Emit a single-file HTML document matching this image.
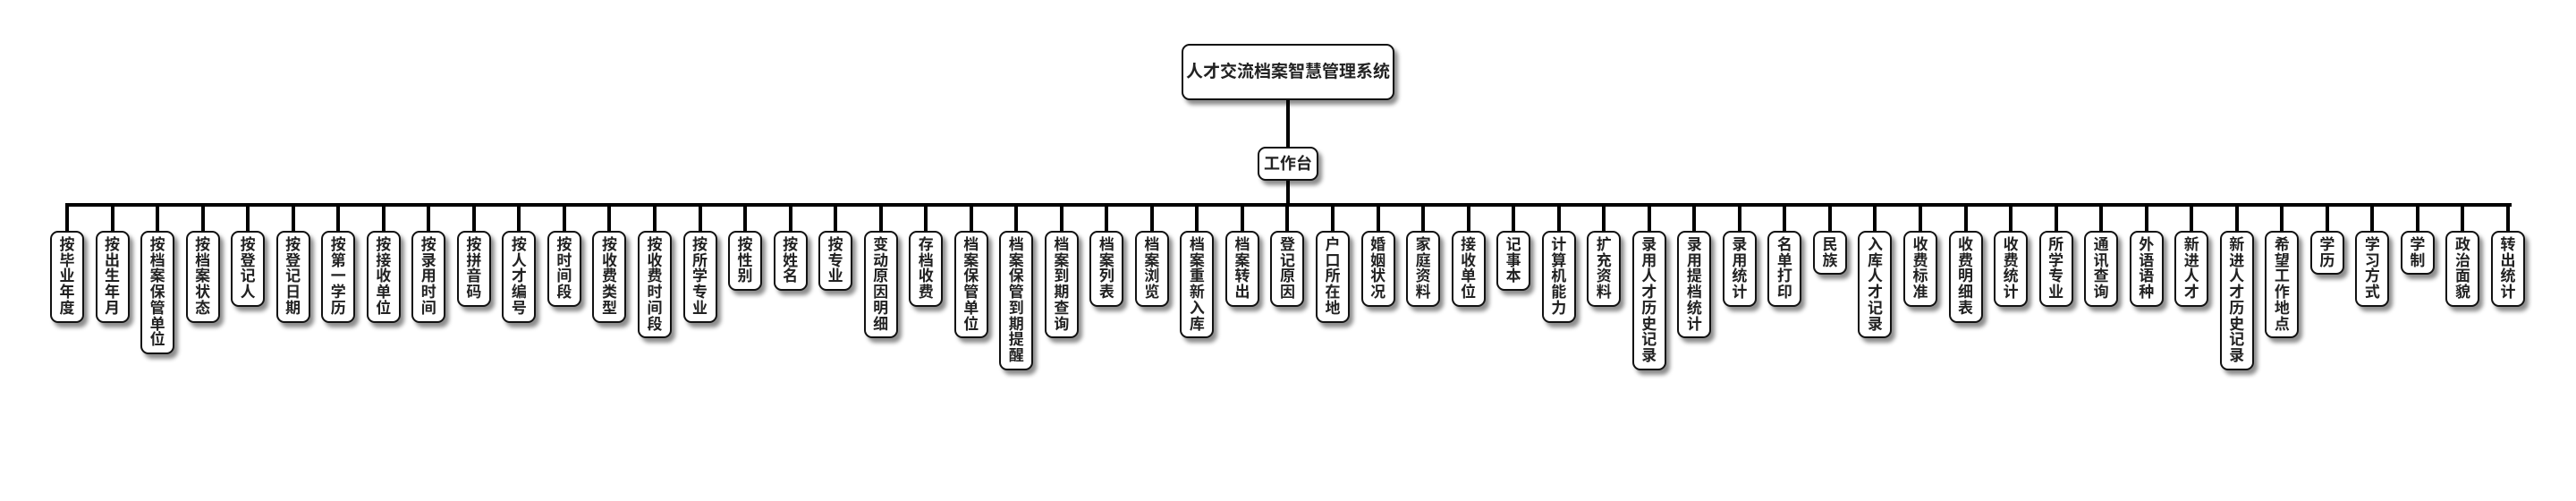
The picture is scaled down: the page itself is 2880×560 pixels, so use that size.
<!DOCTYPE html>
<html><head><meta charset="utf-8"><style>
html,body{margin:0;padding:0;background:#fff;}
body{width:2880px;height:560px;position:relative;overflow:hidden;font-family:"Liberation Sans","Noto Sans CJK SC",sans-serif;font-weight:bold;color:#222;}
.box{position:absolute;background:#fff;border:2px solid #111;border-radius:9px;box-shadow:4px 5px 5px rgba(0,0,0,0.45);box-sizing:border-box;text-align:center;}
.line{position:absolute;background:#000;}
.n{position:absolute;top:258px;width:38px;left:calc(56px + var(--i) * 50.537px);background:#fff;border:2px solid #111;border-radius:9px;box-shadow:4px 5px 5px rgba(0,0,0,0.45);box-sizing:border-box;padding:5px 0;font-size:17px;line-height:17.7px;text-align:center;}
.n span{display:block;width:18px;margin:0 auto;word-break:break-all;}
.s{position:absolute;top:229px;height:30px;width:4px;background:#000;left:calc(73px + var(--i) * 50.537px);}
</style></head><body>
<div class="box" style="left:1321px;top:49px;width:238px;height:63px;font-size:19px;line-height:59px;">人才交流档案智慧管理系统</div>
<div class="line" style="left:1438px;top:112px;width:4px;height:52px;"></div>
<div class="box" style="left:1406px;top:164px;width:68px;height:38px;font-size:18px;line-height:34px;">工作台</div>
<div class="line" style="left:1438px;top:202px;width:4px;height:28px;"></div>
<div class="line" style="left:73px;top:227px;width:2735px;height:4px;"></div>

<div class="s" style="--i:0"></div><div class="n" style="--i:0"><span>按毕业年度</span></div>
<div class="s" style="--i:1"></div><div class="n" style="--i:1"><span>按出生年月</span></div>
<div class="s" style="--i:2"></div><div class="n" style="--i:2"><span>按档案保管单位</span></div>
<div class="s" style="--i:3"></div><div class="n" style="--i:3"><span>按档案状态</span></div>
<div class="s" style="--i:4"></div><div class="n" style="--i:4"><span>按登记人</span></div>
<div class="s" style="--i:5"></div><div class="n" style="--i:5"><span>按登记日期</span></div>
<div class="s" style="--i:6"></div><div class="n" style="--i:6"><span>按第一学历</span></div>
<div class="s" style="--i:7"></div><div class="n" style="--i:7"><span>按接收单位</span></div>
<div class="s" style="--i:8"></div><div class="n" style="--i:8"><span>按录用时间</span></div>
<div class="s" style="--i:9"></div><div class="n" style="--i:9"><span>按拼音码</span></div>
<div class="s" style="--i:10"></div><div class="n" style="--i:10"><span>按人才编号</span></div>
<div class="s" style="--i:11"></div><div class="n" style="--i:11"><span>按时间段</span></div>
<div class="s" style="--i:12"></div><div class="n" style="--i:12"><span>按收费类型</span></div>
<div class="s" style="--i:13"></div><div class="n" style="--i:13"><span>按收费时间段</span></div>
<div class="s" style="--i:14"></div><div class="n" style="--i:14"><span>按所学专业</span></div>
<div class="s" style="--i:15"></div><div class="n" style="--i:15"><span>按性别</span></div>
<div class="s" style="--i:16"></div><div class="n" style="--i:16"><span>按姓名</span></div>
<div class="s" style="--i:17"></div><div class="n" style="--i:17"><span>按专业</span></div>
<div class="s" style="--i:18"></div><div class="n" style="--i:18"><span>变动原因明细</span></div>
<div class="s" style="--i:19"></div><div class="n" style="--i:19"><span>存档收费</span></div>
<div class="s" style="--i:20"></div><div class="n" style="--i:20"><span>档案保管单位</span></div>
<div class="s" style="--i:21"></div><div class="n" style="--i:21"><span>档案保管到期提醒</span></div>
<div class="s" style="--i:22"></div><div class="n" style="--i:22"><span>档案到期查询</span></div>
<div class="s" style="--i:23"></div><div class="n" style="--i:23"><span>档案列表</span></div>
<div class="s" style="--i:24"></div><div class="n" style="--i:24"><span>档案浏览</span></div>
<div class="s" style="--i:25"></div><div class="n" style="--i:25"><span>档案重新入库</span></div>
<div class="s" style="--i:26"></div><div class="n" style="--i:26"><span>档案转出</span></div>
<div class="s" style="--i:27"></div><div class="n" style="--i:27"><span>登记原因</span></div>
<div class="s" style="--i:28"></div><div class="n" style="--i:28"><span>户口所在地</span></div>
<div class="s" style="--i:29"></div><div class="n" style="--i:29"><span>婚姻状况</span></div>
<div class="s" style="--i:30"></div><div class="n" style="--i:30"><span>家庭资料</span></div>
<div class="s" style="--i:31"></div><div class="n" style="--i:31"><span>接收单位</span></div>
<div class="s" style="--i:32"></div><div class="n" style="--i:32"><span>记事本</span></div>
<div class="s" style="--i:33"></div><div class="n" style="--i:33"><span>计算机能力</span></div>
<div class="s" style="--i:34"></div><div class="n" style="--i:34"><span>扩充资料</span></div>
<div class="s" style="--i:35"></div><div class="n" style="--i:35"><span>录用人才历史记录</span></div>
<div class="s" style="--i:36"></div><div class="n" style="--i:36"><span>录用提档统计</span></div>
<div class="s" style="--i:37"></div><div class="n" style="--i:37"><span>录用统计</span></div>
<div class="s" style="--i:38"></div><div class="n" style="--i:38"><span>名单打印</span></div>
<div class="s" style="--i:39"></div><div class="n" style="--i:39"><span>民族</span></div>
<div class="s" style="--i:40"></div><div class="n" style="--i:40"><span>入库人才记录</span></div>
<div class="s" style="--i:41"></div><div class="n" style="--i:41"><span>收费标准</span></div>
<div class="s" style="--i:42"></div><div class="n" style="--i:42"><span>收费明细表</span></div>
<div class="s" style="--i:43"></div><div class="n" style="--i:43"><span>收费统计</span></div>
<div class="s" style="--i:44"></div><div class="n" style="--i:44"><span>所学专业</span></div>
<div class="s" style="--i:45"></div><div class="n" style="--i:45"><span>通讯查询</span></div>
<div class="s" style="--i:46"></div><div class="n" style="--i:46"><span>外语语种</span></div>
<div class="s" style="--i:47"></div><div class="n" style="--i:47"><span>新进人才</span></div>
<div class="s" style="--i:48"></div><div class="n" style="--i:48"><span>新进人才历史记录</span></div>
<div class="s" style="--i:49"></div><div class="n" style="--i:49"><span>希望工作地点</span></div>
<div class="s" style="--i:50"></div><div class="n" style="--i:50"><span>学历</span></div>
<div class="s" style="--i:51"></div><div class="n" style="--i:51"><span>学习方式</span></div>
<div class="s" style="--i:52"></div><div class="n" style="--i:52"><span>学制</span></div>
<div class="s" style="--i:53"></div><div class="n" style="--i:53"><span>政治面貌</span></div>
<div class="s" style="--i:54"></div><div class="n" style="--i:54"><span>转出统计</span></div>
</body></html>
